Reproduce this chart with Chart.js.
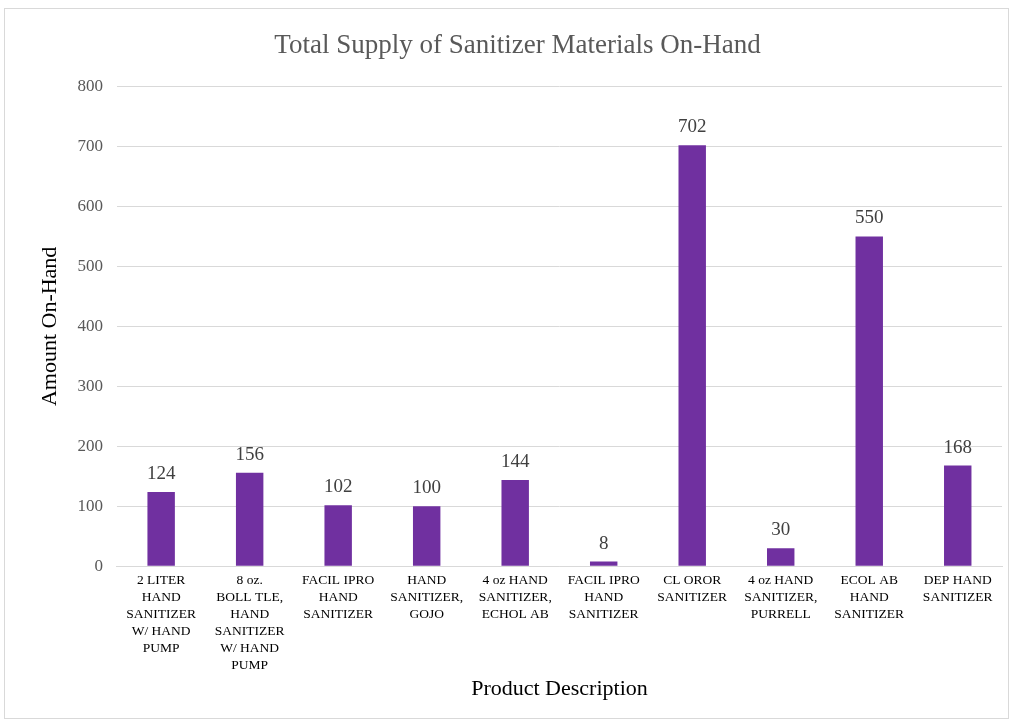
<!DOCTYPE html>
<html>
<head>
<meta charset="utf-8">
<script src="https://cdn.jsdelivr.net/npm/chart.js@4"></script>
<style>
  html, body { margin: 0; padding: 0; background: #fff; }
  #wrap { position: absolute; left: 4px; top: 8px; width: 1005px; height: 711px; border: 1px solid #d9d9d9; box-sizing: border-box; }
  canvas { display: block; }
</style>
</head>
<body>
<div id="wrap"><canvas id="supplyChart"></canvas></div>
<script>
// Product labels, already split into lines as in the original
const products = [
    ['2 LITER', 'HAND', 'SANITIZER', 'W/ HAND', 'PUMP'],
    ['8 oz.', 'BOLL TLE,', 'HAND', 'SANITIZER', 'W/ HAND', 'PUMP'],
    ['FACIL IPRO', 'HAND', 'SANITIZER'],
    ['HAND', 'SANITIZER,', 'GOJO'],
    ['4 oz HAND', 'SANITIZER,', 'ECHOL AB'],
    ['FACIL IPRO', 'HAND', 'SANITIZER'],
    ['CL OROR', 'SANITIZER'],
    ['4 oz HAND', 'SANITIZER,', 'PURRELL'],
    ['ECOL AB', 'HAND', 'SANITIZER'],
    ['DEP HAND', 'SANITIZER']
];
const amounts = [124, 156, 102, 100, 144, 8, 702, 30, 550, 168];
const yTicks = [0, 100, 200, 300, 400, 500, 600, 700, 800];

const serif = '"Liberation Serif", "Times New Roman", serif';

// Draw the value above each bar
const valueLabels = {
    id: 'valueLabels',
    afterDatasetsDraw(chart) {
        const ctx = chart.ctx;
        const meta = chart.getDatasetMeta(0);
        ctx.save();
        ctx.font = '19px ' + serif;
        ctx.fillStyle = '#404040';
        ctx.textAlign = 'center';
        ctx.textBaseline = 'alphabetic';
        meta.data.forEach(function(bar, i) {
            ctx.fillText(amounts[i], bar.x, bar.y - 13);
        });
        ctx.restore();
    }
};

var ctx = document.getElementById('supplyChart').getContext('2d');
var supplyChart = new Chart(ctx, {
    type: 'bar',
    data: {
        labels: products,
        datasets: [{
            label: 'Amount On-Hand',
            data: amounts,
            backgroundColor: '#7030A0',
            barPercentage: 0.31,
            categoryPercentage: 1
        }]
    },
    options: {
        responsive: true,
        maintainAspectRatio: false,
        animation: false,
        layout: { padding: { left: 28, right: 6, top: 10, bottom: 14 } },
        plugins: {
            legend: { display: false },
            tooltip: { enabled: false },
            title: {
                display: true,
                text: 'Total Supply of Sanitizer Materials On-Hand',
                color: '#595959',
                font: { family: serif, size: 27, weight: 'normal' },
                padding: { top: 11, bottom: 24 }
            }
        },
        scales: {
            x: {
                grid: { display: false, drawTicks: false },
                border: { color: '#d9d9d9' },
                ticks: {
                    color: '#000',
                    font: { family: serif, size: 13.5, lineHeight: 1.25 },
                    maxRotation: 0,
                    autoSkip: false,
                    padding: 6
                },
                title: {
                    display: true,
                    text: 'Product Description',
                    color: '#000',
                    font: { family: serif, size: 22 },
                    padding: { top: -4, bottom: 2 }
                }
            },
            y: {
                min: 0,
                max: 800,
                afterBuildTicks: function(axis) {
                    axis.ticks = yTicks.map(function(v) { return { value: v }; });
                },
                grid: { color: '#d9d9d9', lineWidth: 1, drawTicks: false },
                border: { display: false },
                ticks: {
                    color: '#595959',
                    font: { family: serif, size: 17 },
                    padding: 14
                },
                title: {
                    display: true,
                    text: 'Amount On-Hand',
                    color: '#000',
                    font: { family: serif, size: 22 },
                    padding: { top: 4, bottom: 0 }
                }
            }
        }
    },
    plugins: [valueLabels]
});
</script>
</body>
</html>
